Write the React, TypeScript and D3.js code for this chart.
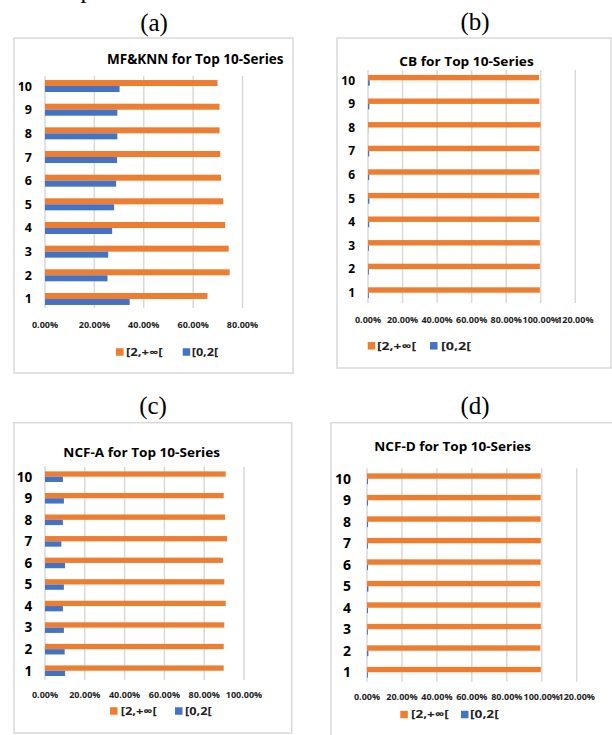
import React from "react";
import * as d3 from "d3";

// Top-10 series share of items by popularity bucket, per recommender
const categories = ["1", "2", "3", "4", "5", "6", "7", "8", "9", "10"];
const seriesNames = ["[2,+∞[", "[0,2["];

const mfknnHigh = [65.8, 74.8, 74.4, 73.0, 72.2, 71.3, 71.0, 70.7, 70.7, 69.9];
const mfknnLow = [34.3, 25.3, 25.6, 27.2, 28.0, 28.8, 29.2, 29.3, 29.3, 30.2];

const cbHigh = [99.5, 99.5, 99.5, 99.3, 99.2, 99.3, 99.3, 99.9, 99.2, 99.0];
const cbLow = [0.5, 0.5, 0.5, 0.7, 0.8, 0.7, 0.7, 0.1, 0.8, 1.0];

const ncfAHigh = [89.8, 89.8, 90.1, 90.8, 90.1, 89.4, 91.5, 90.5, 89.8, 90.8];
const ncfALow = [10.1, 9.9, 9.5, 9.0, 9.5, 10.1, 8.2, 9.0, 9.5, 9.0];

const ncfDHigh = [99.5, 99.2, 99.5, 99.4, 99.2, 99.4, 99.5, 99.4, 99.4, 99.4];
const ncfDLow = [0.5, 0.8, 0.5, 0.6, 0.8, 0.6, 0.5, 0.6, 0.6, 0.6];

const ticks80 = [0, 0.2, 0.4, 0.6, 0.8];
const ticks100 = [0, 0.2, 0.4, 0.6, 0.8, 1.0];
const ticks120 = [0, 0.2, 0.4, 0.6, 0.8, 1.0, 1.2];

const ORANGE = "#ED7D31";
const BLUE = "#4472C4";
const GRID = "#d9d9d9";
const SANS = "'Open Sans', 'DejaVu Sans', sans-serif";
const SERIF = "'Liberation Serif', 'DejaVu Serif', serif";

type Panel = {
  letter: string;
  letterX: number;
  letterY: number;
  title: string;
  titleX: number;
  titleY: number;
  titleAnchor: "start" | "middle" | "end";
  titleSize: number;
  titleLen: number;
  box: [number, number, number, number];
  high: number[];
  low: number[];
  ticks: number[];
  x0: number;
  x1: number;
  bandTop: number;
  bandBottom: number;
  gridTop: number;
  gridBottom: number;
  barH: number;
  catRight: number;
  catSize: number;
  tickY: number;
  tickSize: number;
  legendY: number;
  legendX: [number, number, number, number];
  legendSize: number;
  legendLen: [number, number];
};

const panels: Panel[] = [
  {
    letter: "(a)", letterX: 154, letterY: 31,
    title: "MF&KNN for Top 10-Series", titleX: 283.5, titleY: 64, titleAnchor: "end", titleSize: 13.5, titleLen: 176.5,
    box: [14, 38, 279, 335],
    high: mfknnHigh, low: mfknnLow, ticks: ticks80,
    x0: 45, x1: 242.5, bandTop: 74.2, bandBottom: 310.8, gridTop: 76, gridBottom: 308, barH: 6,
    catRight: 32, catSize: 12.5, tickY: 328.3, tickSize: 9,
    legendY: 352, legendX: [116, 126, 182.7, 191.7], legendSize: 10.5, legendLen: [36.5, 26.5],
  },
  {
    letter: "(b)", letterX: 475, letterY: 30,
    title: "CB for Top 10-Series", titleX: 466.5, titleY: 65.7, titleAnchor: "middle", titleSize: 12.5, titleLen: 134.4,
    box: [337, 38, 274, 330],
    high: cbHigh, low: cbLow, ticks: ticks120,
    x0: 368, x1: 575.3, bandTop: 68.5, bandBottom: 304.5, gridTop: 70, gridBottom: 303, barH: 5.4,
    catRight: 355, catSize: 12, tickY: 322.7, tickSize: 9,
    legendY: 345.8, legendX: [367.7, 377, 430, 441], legendSize: 11, legendLen: [39, 30],
  },
  {
    letter: "(c)", letterX: 153, letterY: 414,
    title: "NCF-A for Top 10-Series", titleX: 141.7, titleY: 457.3, titleAnchor: "middle", titleSize: 13, titleLen: 156.7,
    box: [14, 422.7, 277.7, 310.3],
    high: ncfAHigh, low: ncfALow, ticks: ticks100,
    x0: 45, x1: 244, bandTop: 465.9, bandBottom: 681.5, gridTop: 466.7, gridBottom: 680, barH: 5.3,
    catRight: 32.3, catSize: 13.5, tickY: 698.3, tickSize: 9,
    legendY: 711, legendX: [110, 120.7, 175, 185], legendSize: 11, legendLen: [36, 26.7],
  },
  {
    letter: "(d)", letterX: 475, letterY: 414,
    title: "NCF-D for Top 10-Series", titleX: 452.7, titleY: 450.7, titleAnchor: "middle", titleSize: 13, titleLen: 156.7,
    box: [331, 422.7, 300, 330],
    high: ncfDHigh, low: ncfDLow, ticks: ticks120,
    x0: 367, x1: 576.7, bandTop: 468, bandBottom: 683, gridTop: 468.3, gridBottom: 681.7, barH: 5.4,
    catRight: 351, catSize: 14, tickY: 700, tickSize: 9,
    legendY: 714.5, legendX: [400.3, 411, 461, 470], legendSize: 11, legendLen: [37.7, 28.7],
  },
];

const pct = d3.format(".2%");

function BarPanel({ p }: { p: Panel }) {
  const maxTick = p.ticks[p.ticks.length - 1];
  const x = d3.scaleLinear().domain([0, maxTick]).range([p.x0, p.x1]);
  // category 1 sits at the bottom, 10 at the top
  const y = d3
    .scaleBand<string>()
    .domain([...categories].reverse())
    .range([p.bandTop, p.bandBottom])
    .padding(0);
  const [bx, by, bw, bh] = p.box;
  const sq = 7.5;
  return (
    <g>
      <text x={p.letterX} y={p.letterY} textAnchor="middle" fontFamily={SERIF} fontSize={25} fill="#000">
        {p.letter}
      </text>
      <rect x={bx} y={by} width={bw} height={bh} fill="#fff" stroke={GRID} strokeWidth={1.5} />
      <text
        x={p.titleX}
        y={p.titleY}
        textAnchor={p.titleAnchor}
        fontFamily={SANS}
        fontWeight={700}
        fontSize={p.titleSize}
        fill="#000"
        textLength={p.titleLen}
        lengthAdjust="spacingAndGlyphs"
      >
        {p.title}
      </text>
      {p.ticks.map((t) => (
        <line key={"g" + t} x1={x(t)} x2={x(t)} y1={p.gridTop} y2={p.gridBottom} stroke={GRID} strokeWidth={1.5} />
      ))}
      {categories.map((c, i) => {
        const cy = (y(c) as number) + y.bandwidth() / 2;
        return (
          <g key={"c" + c}>
            <rect x={x(0)} y={cy - p.barH} width={x(p.high[i] / 100) - x(0)} height={p.barH} fill={ORANGE} />
            <rect x={x(0)} y={cy} width={x(p.low[i] / 100) - x(0)} height={p.barH} fill={BLUE} />
            <text
              x={p.catRight}
              y={cy}
              dy="0.36em"
              textAnchor="end"
              fontFamily={SANS}
              fontWeight={700}
              fontSize={p.catSize}
              fill="#000"
            >
              {c}
            </text>
          </g>
        );
      })}
      {p.ticks.map((t) => (
        <text
          key={"t" + t}
          x={x(t)}
          y={p.tickY}
          textAnchor="middle"
          fontFamily={SANS}
          fontWeight={700}
          fontSize={p.tickSize}
          fill="#222"
        >
          {pct(t)}
        </text>
      ))}
      <rect x={p.legendX[0]} y={p.legendY - sq / 2} width={sq} height={sq} fill={ORANGE} />
      <text
        x={p.legendX[1]}
        y={p.legendY}
        dy="0.36em"
        fontFamily={SANS}
        fontWeight={700}
        fontSize={p.legendSize}
        fill="#222"
        textLength={p.legendLen[0]}
        lengthAdjust="spacingAndGlyphs"
      >
        {seriesNames[0]}
      </text>
      <rect x={p.legendX[2]} y={p.legendY - sq / 2} width={sq} height={sq} fill={BLUE} />
      <text
        x={p.legendX[3]}
        y={p.legendY}
        dy="0.36em"
        fontFamily={SANS}
        fontWeight={700}
        fontSize={p.legendSize}
        fill="#222"
        textLength={p.legendLen[1]}
        lengthAdjust="spacingAndGlyphs"
      >
        {seriesNames[1]}
      </text>
    </g>
  );
}

export default function App() {
  return (
    <div style={{ position: "absolute", left: 0, top: 0, width: 612, height: 735, overflow: "hidden", background: "#fff" }}>
      <svg width={612} height={735} viewBox="0 0 612 735" style={{ display: "block" }}>
        <rect width={612} height={735} fill="#fff" />
        {/* tail of the caption line above the figure */}
        <text x={80.5} y={-2.4} fontFamily={SERIF} fontSize={25} fill="#000">p</text>
        {panels.map((p) => (
          <BarPanel key={p.letter} p={p} />
        ))}
      </svg>
    </div>
  );
}
